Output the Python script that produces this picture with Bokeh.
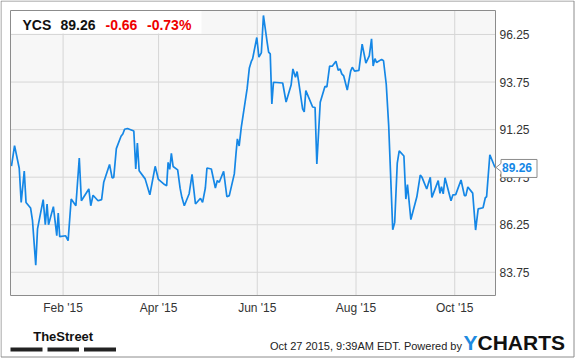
from bokeh.plotting import figure
from bokeh.models import Range1d
from bokeh.core.properties import value
from bokeh.embed import file_html
from bokeh.resources import INLINE

# ---------------- data (days since 2015-01-01, closing price) ----------------
days = [-0.9, 1.0, 3.9, 5.1, 7.0, 8.1, 10.9, 12.1, 14.1, 15.2,
        18.7, 20.0, 21.1, 22.0, 25.0, 27.1, 28.0, 28.9, 32.6, 34.1,
        36.0, 38.9, 41.0, 42.3, 46.9, 48.1, 49.5, 52.6, 54.8, 56.1,
        59.7, 61.3, 62.3, 63.9, 66.8, 67.9, 69.0, 70.8, 74.7, 75.9,
        76.9, 78.0, 81.7, 84.6, 87.9, 89.9, 93.7, 95.0, 95.9, 96.9, 97.9,
        99.0, 101.8, 103.3, 104.4, 105.9, 108.9, 110.7, 112.8, 115.9, 117.2,
        118.9, 119.9, 122.6, 125.1, 126.3, 127.5, 130.2, 132.2, 133.7, 136.8,
        137.9, 138.7, 139.8, 141.1, 144.7, 146.1, 147.3, 148.1, 150.7, 152.0,
        153.5, 154.8, 157.1, 158.0, 159.0, 160.0, 161.0, 166.7, 168.8, 171.9,
        173.0, 174.6, 175.6, 176.6, 179.0, 180.0, 181.0, 185.2, 186.7, 187.8,
        189.9, 192.8, 194.0, 195.7, 197.3, 199.6, 201.0, 202.2, 203.2, 204.4,
        206.6, 208.7, 209.7, 211.1, 213.8, 215.8, 218.1, 220.2, 221.6, 222.6,
        223.7, 224.7, 227.8, 229.0, 230.7, 232.2, 234.7, 235.9, 237.5, 238.7,
        241.6, 242.8, 243.8, 245.9, 249.6, 251.7, 252.8, 255.7, 257.9, 258.9,
        262.8, 263.9, 264.8, 265.9, 267.0, 270.7, 271.9, 273.6, 276.9, 279.0,
        279.9, 281.1, 284.1, 285.9, 287.5, 290.5, 291.9, 292.7, 294.7, 297.9]

prices = [89.33, 90.41, 89.22, 87.42, 89.07, 87.42, 87.13, 86.46, 84.12, 86.03,
          87.57, 86.25, 87.34, 86.25, 87.20, 85.67, 86.86, 85.62, 85.67, 85.41,
          87.60, 87.25, 89.76, 87.51, 88.13, 87.25, 87.80, 87.51, 87.57, 88.48,
          89.42, 88.71, 88.74, 90.25, 90.90, 91.02, 91.27, 91.31, 91.18, 89.18,
          90.54, 89.09, 88.66, 87.82, 89.32, 88.63, 88.36, 88.30, 89.53, 89.16, 90.00,
          89.31, 89.13, 88.17, 87.69, 87.25, 87.88, 88.90, 87.34, 87.64, 87.42,
          88.18, 89.23, 89.18, 88.18, 88.57, 88.48, 89.06, 87.72, 87.78, 88.92,
          90.04, 90.76, 90.39, 91.37, 93.39, 94.49, 94.83, 94.97, 96.09, 95.06,
          95.28, 97.25, 95.83, 95.32, 95.23, 92.60, 93.74, 93.70, 92.70, 93.59,
          94.44, 94.00, 94.30, 93.74, 92.34, 92.18, 93.30, 92.44, 92.41, 89.44,
          92.69, 93.52, 93.49, 94.59, 94.58, 94.84, 94.37, 94.43, 94.18, 94.07,
          93.33, 94.32, 94.53, 94.32, 94.36, 95.74, 94.75, 95.12, 96.02, 94.59,
          94.98, 94.78, 94.94, 94.87, 93.62, 91.46, 85.99, 86.36, 89.49, 90.13,
          89.86, 87.60, 88.36, 86.52, 87.72, 88.86, 88.74, 88.13, 88.74, 87.69,
          88.57, 87.90, 88.25, 87.87, 88.72, 87.51, 87.82, 87.83, 88.60, 87.78,
          87.78, 88.23, 87.91, 85.97, 87.08, 87.14, 87.67, 87.72, 89.93, 89.26]

x_tick_days = [31, 90, 151, 212, 273]
x_tick_labels = ["Feb '15", "Apr '15", "Jun '15", "Aug '15", "Oct '15"]
y_ticks = [83.75, 86.25, 88.75, 91.25, 93.75, 96.25]

ticker_name = "YCS"
last_price = "89.26"
change = "-0.66"
change_pct = "-0.73%"
timestamp = "Oct 27 2015, 9:39AM EDT.  Powered by"

# ---------------- geometry: the frame covers the whole canvas ----------------
W, H = 575, 358
FL, FR, FT, FB = 10, 495, 10, 295          # inner plotting area, canvas pixels
X0, X1 = -1.5, 298.2                         # data extent of inner area
Y0, Y1 = 82.53, 97.51
SX = (X1 - X0) / (FR - FL)
SY = (Y1 - Y0) / (FB - FT)

def dx(px):
    return X0 + (px - FL) * SX

def dy(py):
    return Y1 - (py - FT) * SY

FONT = "Liberation Sans"
BLUE = "#1587e6"
GRAY = "#8c8c8c"

p = figure(width=W, height=H, output_backend="svg", toolbar_location=None,
           x_range=Range1d(dx(0), dx(W)), y_range=Range1d(dy(H), dy(0)),
           x_axis_location=None, y_axis_location=None,
           min_border=0, min_border_left=0, min_border_right=0,
           min_border_top=0, min_border_bottom=0)
p.grid.visible = False
p.outline_line_color = None
p.background_fill_color = "white"
p.border_fill_color = "white"

# outer border
p.quad(left=dx(0.5), right=dx(W - 1.5), top=dy(0.5), bottom=dy(H - 1.5),
       fill_color=None, line_color=GRAY, line_width=1)

# inner plot background
p.quad(left=X0, right=X1, top=Y1, bottom=Y0, fill_color="#f7f7f7", line_color=None)

# grid lines
p.segment(x0=x_tick_days, y0=[Y0] * len(x_tick_days), x1=x_tick_days, y1=[Y1] * len(x_tick_days),
          line_color="#d6d6d6", line_width=1)
p.segment(x0=[X0] * len(y_ticks), y0=y_ticks, x1=[X1] * len(y_ticks), y1=y_ticks,
          line_color="#d6d6d6", line_width=1)

# price line
p.line(days, prices, line_color=BLUE, line_width=1.7)

# header box
p.quad(left=dx(FL + 0.5), right=dx(201), top=dy(FT + 0.5), bottom=dy(33),
       fill_color="white", line_color=None)
hdr_texts = [ticker_name, last_price, change, change_pct]
hdr_x = [dx(22), dx(60), dx(105), dx(146.5)]
hdr_col = ["#111111", "#111111", "#ee0000", "#ee0000"]
p.text(x=hdr_x, y=[dy(24)] * 4, text=hdr_texts, text_color=hdr_col,
       text_font=value(FONT), text_font_size=value("14px"), text_font_style="bold",
       text_baseline="middle", text_align="left")

# inner outline
p.quad(left=X0, right=X1, top=Y1, bottom=Y0, fill_color=None, line_color=GRAY, line_width=1)

# axis labels
p.text(x=[dx(499)] * len(y_ticks), y=y_ticks, text=[f"{t:.2f}" for t in y_ticks],
       text_font=value(FONT), text_font_size=value("12px"), text_color="#333333",
       text_align="left", text_baseline="middle")
p.text(x=x_tick_days, y=[dy(300)] * len(x_tick_days), text=x_tick_labels,
       text_font=value(FONT), text_font_size=value("12px"), text_color="#333333",
       text_align="center", text_baseline="top")

# last value callout
xl, yl = days[-1], prices[-1]
poly_x = [xl + 1 * SX, xl + 6 * SX, xl + 6 * SX, xl + 42 * SX, xl + 42 * SX, xl + 6 * SX, xl + 6 * SX]
poly_y = [yl, yl - 4 * SY, yl - 10 * SY, yl - 10 * SY, yl + 8 * SY, yl + 8 * SY, yl + 4 * SY]
p.patch(poly_x, poly_y, fill_color="white", line_color=GRAY, line_width=1)
p.text(x=[xl + 7 * SX], y=[yl - 0.5 * SY], text=[f"{prices[-1]:.2f}"],
       text_font=value(FONT), text_font_size=value("12px"), text_font_style="bold",
       text_color=BLUE, text_align="left", text_baseline="middle")

# footer
p.text(x=[dx(62.7)], y=[dy(335.5)], text=["TheStreet"], text_font=value(FONT),
       text_font_size=value("13px"), text_font_style="bold", text_color="#111111",
       text_align="center", text_baseline="middle")
bars_l = [dx(10), dx(47), dx(83.5)]
bars_r = [dx(42), dx(78.5), dx(115.5)]
p.quad(left=bars_l, right=bars_r, top=[dy(347)] * 3, bottom=[dy(351)] * 3,
       fill_color="#222222", line_color=None)
p.text(x=[dx(269.5)], y=[dy(345)], text=[timestamp], text_font=value(FONT),
       text_font_size=value("11px"), text_color="#222222", text_baseline="middle")
p.text(x=[dx(463), dx(477)], y=[dy(342)] * 2, text=["Y", "CHARTS"], text_font=value(FONT),
       text_font_size=value("21px"), text_font_style="bold", text_color=["#1e8be0", "#111111"],
       text_baseline="middle")

open("out.html", "w").write(file_html(p, INLINE))
